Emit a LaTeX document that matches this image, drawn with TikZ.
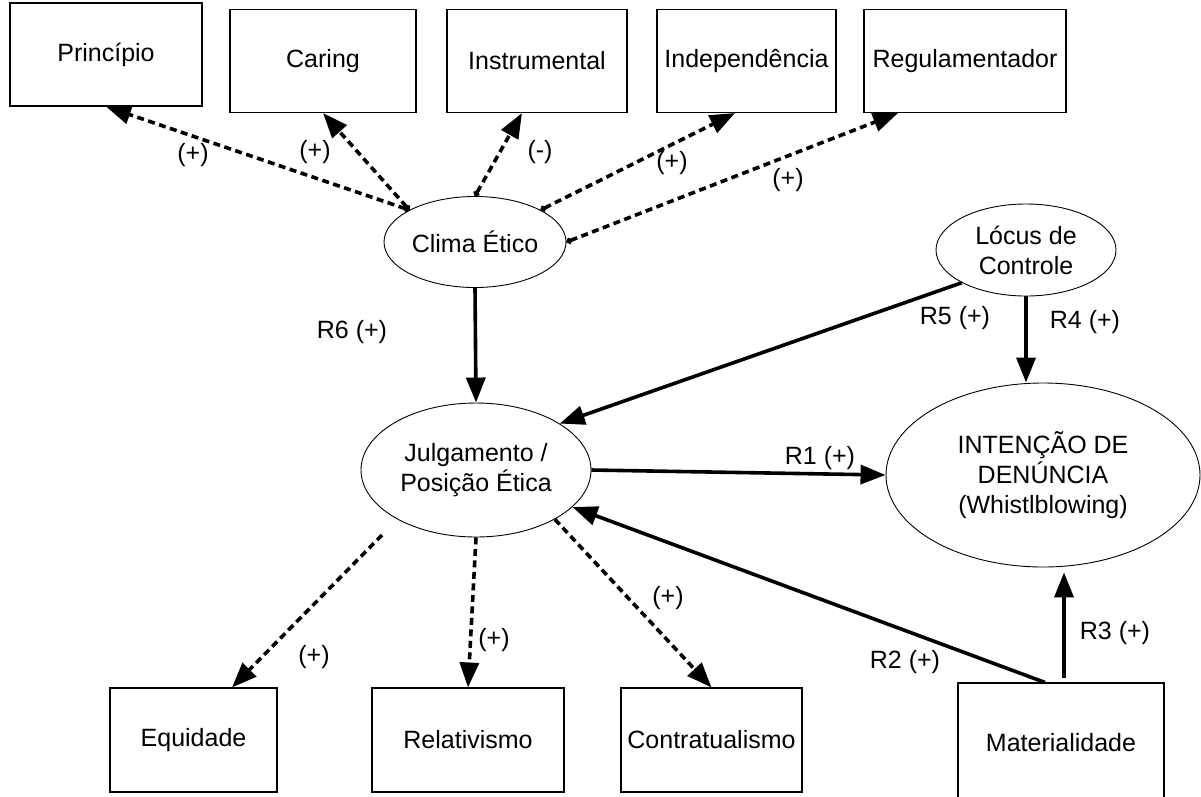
\documentclass[tikz,border=0pt]{standalone}
\usepackage{fontspec}
\setmainfont{Liberation Sans}
\usetikzlibrary{arrows.meta,shapes.geometric,calc}
\begin{document}
\begin{tikzpicture}[x=1pt,y=-1pt,
  every node/.style={font=\fontsize{25}{30}\selectfont, inner sep=0pt},
  box/.style={draw, line width=1.1pt, rectangle, minimum height=103pt},
  oval/.style={draw, line width=0.9pt, ellipse, align=center},
  dasharrow/.style={line width=3.6pt, dash pattern=on 7pt off 4.5pt, -{Triangle[length=25pt,width=19pt]}},
  dotdash/.style={dasharrow, {Circle[length=6pt]}-{Triangle[length=25pt,width=19pt]}},
  solidarrow/.style={line width=3.6pt, -{Triangle[length=25pt,width=19pt]}}
]
\useasboundingbox (0,0) rectangle (1201,796);

% top boxes
\node[box, minimum width=192pt] (princ) at (106,54.5) {Princípio};
\node[box, minimum width=186pt] (caring) at (323,61) {Caring};
\node[box, minimum width=180pt] (instr) at (537,61) {Instrumental};
\node[box, minimum width=179pt] (indep) at (746.5,61) {Independência};
\node[box, minimum width=202pt] (regul) at (965,61) {Regulamentador};

% ellipses
\node[oval, minimum width=182pt, minimum height=91pt] (clima) at (475,242) {Clima Ético};
\node[oval, minimum width=180pt, minimum height=92pt] (locus) at (1026,250) {Lócus de\\Controle};
\node[oval, minimum width=230pt, minimum height=134pt] (julg) at (476,470) {Julgamento /\\Posição Ética};
\node[oval, minimum width=314pt, minimum height=184pt] (inten) at (1043,475) {INTENÇÃO DE\\DENÚNCIA\\(Whistlblowing)};

% bottom boxes
\node[box, minimum width=167pt, minimum height=104pt] (equid) at (193.5,740) {Equidade};
\node[box, minimum width=192pt, minimum height=104pt] (relat) at (468,740) {Relativismo};
\node[box, minimum width=181pt, minimum height=104pt] (contr) at (711.5,740) {Contratualismo};
\node[box, minimum width=206pt, minimum height=120pt] (mater) at (1061,743) {Materialidade};

% dashed connectors from Clima Etico
\draw[dotdash] (clima.154.5) -- (princ.south);
\draw[dotdash] (clima.154.5) -- (caring.south);
\draw[dotdash] (clima.north) -- ($(instr.south)+(-15,0)$);
\draw[dotdash] (clima.26.2) -- ($(indep.south)+(-11.5,0)$);
\draw[dotdash] (clima.east) -- ($(regul.south)+(-67,0)$);

% dashed connectors from Julgamento
\coordinate (eqs) at (382,535);
\draw[dasharrow] (eqs) -- ($(equid.north)+(38.5,0)$);
\draw[dasharrow] (julg.south) -- (relat.north);
\draw[dasharrow] (julg.-32) -- (contr.north);

% solid connectors
\draw[solidarrow] (clima.south) -- (julg.north);
\draw[solidarrow] (locus.-153) -- (julg.29.8);
\draw[solidarrow] (locus.south) -- (locus.south |- inten.north);
\draw[solidarrow] (julg.east) -- (inten.west);
\draw[solidarrow] ($(mater.north)+(3,-4)$) -- ($(inten.south)+(21,5)$);
\draw[solidarrow] ($(mater.north)+(-16,0)$) -- (julg.-21.4);

% labels
\node (lp1) at (193,155) {(+)};
\node (lp2) at (315,152) {(+)};
\node (lp3) at (540,152) {(-)};
\node (lp4) at (672,163) {(+)};
\node (lp5) at (788,180) {(+)};
\node (lr6) at (352,332) {R6 (+)};
\node (lr5) at (955,318) {R5 (+)};
\node (lr4) at (1085,322) {R4 (+)};
\node (lr1) at (820,458) {R1 (+)};
\node (lr3) at (1115,633) {R3 (+)};
\node (lr2) at (905,662) {R2 (+)};
\node (lb1) at (314,657) {(+)};
\node (lb2) at (494,640) {(+)};
\node (lb3) at (668,598) {(+)};
\end{tikzpicture}
\end{document}
